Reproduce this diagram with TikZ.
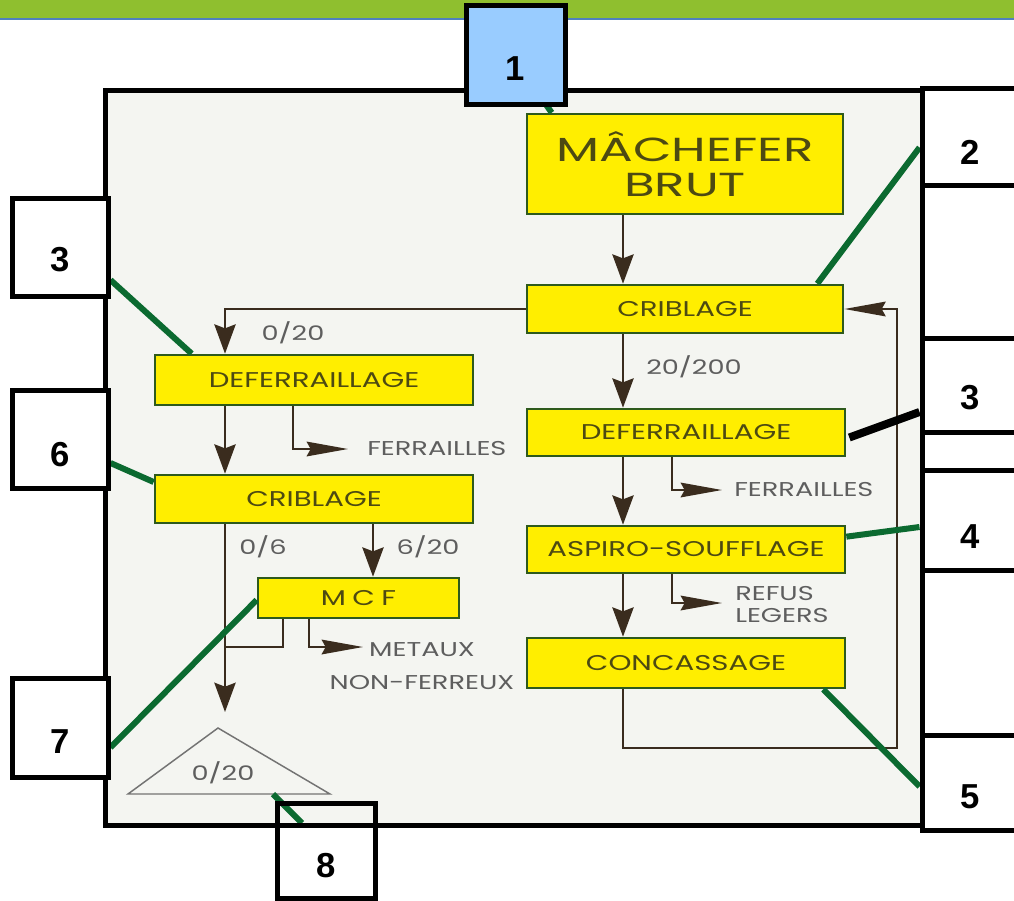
\documentclass[tikz,border=0pt]{standalone}
\usepackage{fontspec}
\setmainfont{Liberation Sans}
\newfontfamily\flowfont[FakeStretch=1.37]{Poppins}
\newfontfamily\labfont[FakeStretch=1.36]{Poppins}
\newfontfamily\bigfont[FakeStretch=1.5]{Poppins}
\newfontfamily\numfont{Liberation Sans}
\usetikzlibrary{arrows.meta,calc}
\definecolor{topgreen}{HTML}{8FBF2F}
\definecolor{topblue}{HTML}{4F81BD}
\definecolor{lblue}{HTML}{99CCFF}
\definecolor{panel}{HTML}{F4F5F1}
\definecolor{yfill}{HTML}{FFEE00}
\definecolor{yborder}{HTML}{2E5A1C}
\definecolor{ytext}{HTML}{4D4A12}
\definecolor{gtext}{HTML}{5E5E5E}
\definecolor{flowbrown}{HTML}{3A2C1E}
\definecolor{callgreen}{HTML}{0B6A30}
\tikzset{
  proc/.style={draw=yborder,fill=yfill,line width=2pt,text=ytext,inner sep=0pt,
    font=\flowfont\fontsize{16}{18}\selectfont},
  flow/.style={draw=flowbrown,line width=1.6pt},
  va/.style={flow,-{Stealth[length=22pt,width=16pt,inset=3pt]}},
  ha/.style={flow,-{Stealth[length=31pt,width=11pt,inset=3pt]}},
  lab/.style={text=gtext,inner sep=0pt,font=\labfont\fontsize{15}{20}\selectfont},
  callout/.style={draw=callgreen,line width=4.5pt},
  numbox/.style={draw=black,line width=3.75pt,inner sep=0pt},
  num/.style={inner sep=0pt,font=\numfont\bfseries\fontsize{26}{26}\selectfont},
  tri/.style={draw=gray!90!black,line width=1.1pt,fill=panel}
}
\begin{document}
\begin{tikzpicture}[x=0.75pt,y=-0.75pt]
\clip (0,0) rectangle (1014,900);
\fill[white] (0,0) rectangle (1014,900);
\fill[topgreen] (0,0) rectangle (1014,18);
\fill[topblue] (0,18) rectangle (1014,20);
\fill[panel] (105,90) rectangle (922,825);

% columns
\coordinate (cR) at (623,0);
\coordinate (bR) at (672,0);
\coordinate (cL) at (225,0);
\coordinate (bL) at (293,0);
\coordinate (cM) at (373,0);
\coordinate (mA) at (283,0);
\coordinate (mB) at (309,0);
\coordinate (loopX) at (897,0);
\coordinate (loopY) at (0,748);
\coordinate (jY) at (0,647);

% process boxes
\node[proc,minimum width=237pt,minimum height=75pt,align=center,
  font=\bigfont\fontsize{25}{26.5}\selectfont] (MACH) at (685,164) {MÂCHEFER\\BRUT};
\node[proc,minimum width=237pt,minimum height=36pt] (CRIB1) at (685,309) {CRIBLAGE};
\node[proc,minimum width=238.5pt,minimum height=35.25pt] (DEF1) at (686,432.5) {DEFERRAILLAGE};
\node[proc,minimum width=238.5pt,minimum height=35.25pt] (ASP) at (686,549.5) {ASPIRO-SOUFFLAGE};
\node[proc,minimum width=238.5pt,minimum height=37.5pt] (CONC) at (686,663) {CONCASSAGE};
\node[proc,minimum width=238.5pt,minimum height=37.5pt] (DEF2) at (314,380) {DEFERRAILLAGE};
\node[proc,minimum width=238.5pt,minimum height=36pt] (CRIB2) at (314,499) {CRIBLAGE};
\node[proc,minimum width=150.75pt,minimum height=30pt] (MCF) at (358.5,598) {M\hspace{0.3em}C\hspace{0.3em}F};

% labels
\node[lab,anchor=west] (l20200) at (646,367) {20/200};
\node[lab,anchor=west] (fer1) at (734,490) {FERRAILLES};
\node[lab,anchor=west,align=left,font=\labfont\fontsize{15}{16.5}\selectfont] (refus) at (735,604) {REFUS\\LEGERS};
\node[lab] (l020a) at (293,333) {0/20};
\node[lab,anchor=west] (fer2) at (367,449) {FERRAILLES};
\node[lab] (l06) at (263,547) {0/6};
\node[lab] (l620) at (428,547) {6/20};
\node[lab,align=center,font=\labfont\fontsize{15}{24.5}\selectfont] (met) at (422,666) {METAUX\\NON-FERREUX};
\coordinate (fer1a) at (722,490);
\coordinate (refusa) at (722,603);
\coordinate (fer2a) at (348,449);
\coordinate (meta) at (363,647);

% triangle
\coordinate (triTop) at (218,728);
\coordinate (triL) at (128,794);
\coordinate (triR) at (330,794);
\draw[tri] (triL) -- (triTop) -- (triR) -- cycle;
\node[lab] (l020b) at (223,773) {0/20};

% flow connectors
\draw[va] (MACH.south -| cR) -- (CRIB1.north -| cR);
\draw[va] (CRIB1.south -| cR) -- (DEF1.north -| cR);
\draw[va] (DEF1.south -| cR) -- (ASP.north -| cR);
\draw[va] (ASP.south -| cR) -- (CONC.north -| cR);
\draw[ha] (DEF1.south -| bR) |- (fer1a);
\draw[ha] (ASP.south -| bR) |- (refusa);
\draw[ha] (CONC.south -| cR) -- (cR |- loopY) -- (loopX |- loopY) -- (loopX |- CRIB1.east) -- (CRIB1.east);
\draw[va] (CRIB1.west) -| (DEF2.north -| cL);
\draw[va] (DEF2.south -| cL) -- (CRIB2.north -| cL);
\draw[ha] (DEF2.south -| bL) |- (fer2a);
\draw[va,shorten >=12pt] (CRIB2.south -| cL) -- (cL |- triTop);
\draw[va] (CRIB2.south -| cM) -- (MCF.north -| cM);
\draw[flow] (MCF.south -| mA) |- (cL |- jY);
\draw[ha] (MCF.south -| mB) |- (meta);

% label boxes (geometry)
\node[numbox,fill=lblue,minimum width=74.25pt,minimum height=74.25pt] (b1) at (515.5,54.5) {};
\node[numbox,minimum width=88.5pt,minimum height=72.75pt] (b2) at (981,136.5) {};
\node[numbox,minimum width=88.5pt,minimum height=70.5pt] (b3R) at (981,385) {};
\node[numbox,minimum width=88.5pt,minimum height=75pt] (b4) at (981,520) {};
\node[numbox,minimum width=88.5pt,minimum height=71.25pt] (b5) at (981,782.5) {};
\node[numbox,fill=white,minimum width=72pt,minimum height=73.5pt] (b3L) at (60,247) {};
\node[numbox,fill=white,minimum width=72pt,minimum height=73.5pt] (b6) at (60,439) {};
\node[numbox,fill=white,minimum width=72pt,minimum height=74.25pt] (b7) at (60,727.5) {};

% callouts
\draw[callout] ($(b2.west)+(0,11)$) -- ($(CRIB1.north east)+(-27,0)$);
\draw[draw=black,line width=6pt] ($(b3R.west)+(0,27)$) -- ($(DEF1.east)+(3,5)$);
\draw[callout] ($(b4.west)+(0,7)$) -- ($(ASP.north east)+(0,12)$);
\draw[callout] ($(CONC.south east)+(-23,0)$) -- ($(b5.west)+(0,4)$);
\draw[callout] ($(b3L.east)+(0,33)$) -- ($(DEF2.north west)+(38,0)$);
\draw[callout] ($(b6.east)+(0,24)$) -- ($(CRIB2.west)+(0,-17)$);
\draw[callout] ($(b7.east)+(0,20)$) -- ($(MCF.west)+(0,2)$);
\coordinate (g8end) at (302,823);
\draw[callout] ($(triR)+(-57,0)$) -- (g8end);
\draw[callout] (540,96) -- ($(MACH.north west)+(26,0)$);

% frame
\draw[black,line width=3.75pt] (105,90) rectangle (922,825);

% boxes on top of frame
\node[numbox,fill=lblue,minimum width=74.25pt,minimum height=74.25pt] at (b1) {};
\node[numbox,fill=white,minimum width=72pt,minimum height=73.5pt] at (b3L) {};
\node[numbox,fill=white,minimum width=72pt,minimum height=73.5pt] at (b6) {};
\node[numbox,fill=white,minimum width=72pt,minimum height=74.25pt] at (b7) {};
\node[numbox,minimum width=73.5pt,minimum height=71.25pt] (b8) at (326,850.5) {};

% numbers
\node[num] (n1) at (515,69) {1};
\node[num] (n2) at (970,152) {2};
\node[num] (n3R) at (970,398) {3};
\node[num] (n4) at (970,537) {4};
\node[num] (n5) at (970,797) {5};
\node[num] (n3L) at (60,260) {3};
\node[num] (n6) at (60,455) {6};
\node[num] (n7) at (60,742) {7};
\node[num] (n8) at (326,866) {8};
\end{tikzpicture}
\end{document}
